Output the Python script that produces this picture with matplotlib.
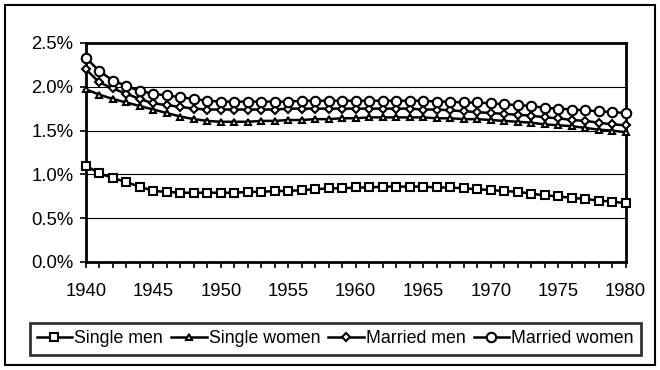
import numpy as np
import matplotlib
matplotlib.use("Agg")
import matplotlib.pyplot as plt
from matplotlib.patches import Rectangle
from matplotlib.ticker import FuncFormatter, MultipleLocator

plt.rcParams['font.family'] = ['Liberation Sans', 'DejaVu Sans']

years = np.arange(1940, 1981)

# rates in percent, one value per year
single_men = [1.10, 1.01, 0.96, 0.91, 0.86, 0.81, 0.80, 0.79, 0.79, 0.79,
              0.79, 0.79, 0.80, 0.80, 0.81, 0.81, 0.82, 0.83, 0.84, 0.84,
              0.85, 0.85, 0.86, 0.86, 0.86, 0.86, 0.85, 0.85, 0.84, 0.83,
              0.82, 0.81, 0.80, 0.78, 0.76, 0.75, 0.73, 0.72, 0.70, 0.69,
              0.67]
single_women = [1.97, 1.91, 1.86, 1.82, 1.78, 1.74, 1.70, 1.66, 1.63, 1.61,
                1.60, 1.60, 1.60, 1.61, 1.61, 1.62, 1.62, 1.63, 1.63, 1.64,
                1.64, 1.65, 1.65, 1.65, 1.65, 1.65, 1.64, 1.64, 1.63, 1.63,
                1.62, 1.61, 1.60, 1.59, 1.57, 1.56, 1.55, 1.53, 1.51, 1.50,
                1.48]
married_men = [2.20, 2.05, 1.98, 1.92, 1.86, 1.81, 1.79, 1.77, 1.75, 1.74,
               1.74, 1.74, 1.74, 1.74, 1.74, 1.75, 1.75, 1.75, 1.75, 1.75,
               1.75, 1.75, 1.75, 1.75, 1.75, 1.74, 1.74, 1.73, 1.72, 1.71,
               1.70, 1.69, 1.68, 1.67, 1.65, 1.64, 1.62, 1.61, 1.59, 1.57,
               1.56]
married_women = [2.33, 2.18, 2.07, 2.01, 1.95, 1.92, 1.90, 1.88, 1.86, 1.84,
                 1.83, 1.83, 1.83, 1.83, 1.83, 1.83, 1.84, 1.84, 1.84, 1.84,
                 1.84, 1.84, 1.84, 1.84, 1.84, 1.84, 1.83, 1.83, 1.82, 1.82,
                 1.81, 1.80, 1.79, 1.78, 1.76, 1.75, 1.74, 1.73, 1.72, 1.71,
                 1.70]

series = [
    ("Single men", single_men, 's', 6.0),
    ("Single women", single_women, '^', 5.0),
    ("Married men", married_men, 'D', 4.5),
    ("Married women", married_women, 'o', 6.8),
]

fig = plt.figure(figsize=(6.6, 3.7), dpi=100)
ax = fig.add_axes([0.130, 0.292, 0.818, 0.592])

for name, vals, mk, ms in series:
    ax.plot(years, vals, color='black', lw=1.8, marker=mk, ms=ms,
            markerfacecolor='white', markeredgecolor='black',
            markeredgewidth=1.5, label=name, clip_on=False, zorder=3)

ax.set_xlim(1940, 1980)
ax.set_ylim(0, 2.5)
ax.xaxis.set_major_locator(MultipleLocator(5))
ax.xaxis.set_minor_locator(MultipleLocator(1))
ax.yaxis.set_major_locator(MultipleLocator(0.5))
ax.yaxis.set_major_formatter(FuncFormatter(lambda v, p: '%.1f%%' % v))
ax.grid(axis='y', color='black', lw=0.8)
ax.set_axisbelow(True)
for s in ax.spines.values():
    s.set_linewidth(2.0)
ax.tick_params(axis='both', which='both', direction='out', color='black',
               labelsize=13.3, width=1.2)
ax.tick_params(axis='x', which='major', length=4, pad=11)
ax.tick_params(axis='x', which='minor', length=4)
ax.tick_params(axis='y', length=4, pad=5)

leg = ax.legend(loc='center', bbox_to_anchor=(0.508, 0.084),
                bbox_transform=fig.transFigure, ncol=4, fontsize=12.8,
                frameon=True, fancybox=False, handlelength=2.0,
                handletextpad=0.12, columnspacing=0.45, borderpad=0.4,
                borderaxespad=0)
leg.get_frame().set_edgecolor('black')
leg.get_frame().set_linewidth(2.0)

# border round the whole chart
fig.patches.append(Rectangle((5 / 660, 5 / 370), 650 / 660, 360 / 370,
                             transform=fig.transFigure, fill=False,
                             edgecolor='black', lw=1.5))

fig.savefig('out.png', dpi=100)
